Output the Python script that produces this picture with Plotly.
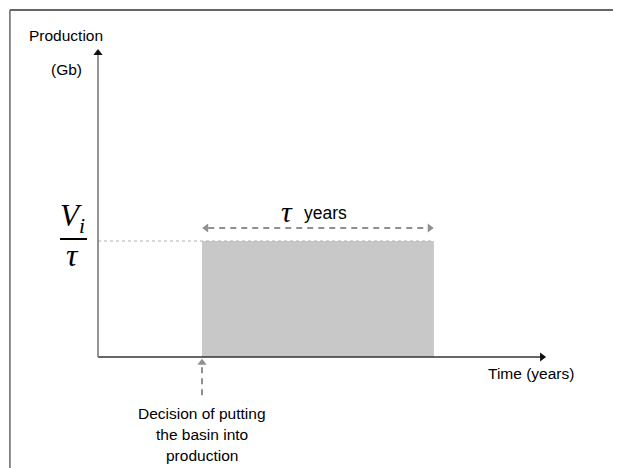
import plotly.graph_objects as go

# ---- data (conceptual units) ----
decision_time = 1.0          # time at which the basin is put into production
tau = 2.23                   # production duration (years)
production_rate = 1.0        # V_i / tau plateau
x_axis_end = 4.3             # end of the time axis (arrow tip)
y_axis_end = 2.65            # end of the production axis (arrow tip)
decision_arrow = [-0.33, -0.03]  # dashed arrow under decision point

labels_y = ["Production", "(Gb)"]
label_x = "Time (years)"
decision_lines = ["Decision of putting", "the basin into", "production"]

# ---- pixel <-> data helpers (layout only) ----
OFF = 8  # page body margin
W, H = 621 - OFF, 468 - OFF
X0, KX = 98.0, 104.0
Y0, KY = 357.0, 116.0
def dx(px): return (px - X0) / KX
def dy(py): return (Y0 - py) / KY

fig = go.Figure()
grey = "#909090"

# shaded production block
t1 = decision_time + tau
fig.add_trace(go.Scatter(
    x=[decision_time, decision_time, t1, t1, decision_time],
    y=[0, production_rate, production_rate, 0, 0],
    fill="toself", fillcolor="#c8c8c8", mode="lines",
    line=dict(width=0, color="#c8c8c8"), hoverinfo="skip", showlegend=False))

# dotted guide from y-axis to plateau
fig.add_trace(go.Scatter(
    x=[0, decision_time, t1], y=[production_rate]*3, mode="lines",
    line=dict(color="#b0b0b0", width=1.2, dash="dot"),
    hoverinfo="skip", showlegend=False))

# dashed double arrow for tau
ya = production_rate + dy(228) - dy(241)
fig.add_trace(go.Scatter(
    x=[decision_time + 0.06, t1 - 0.06], y=[ya, ya], mode="lines",
    line=dict(color=grey, width=2, dash="6px,5px"),
    hoverinfo="skip", showlegend=False))
fig.add_trace(go.Scatter(
    x=[decision_time + 0.04, t1 - 0.04], y=[ya, ya], mode="markers",
    marker=dict(symbol=["triangle-left", "triangle-right"], size=8, color=grey),
    hoverinfo="skip", showlegend=False))

# dashed decision arrow
fig.add_trace(go.Scatter(
    x=[decision_time, decision_time], y=[decision_arrow[0], decision_arrow[1] - 0.05],
    mode="lines", line=dict(color=grey, width=2, dash="6px,5px"),
    hoverinfo="skip", showlegend=False))
fig.add_trace(go.Scatter(
    x=[decision_time], y=[decision_arrow[1] - 0.02], mode="markers",
    marker=dict(symbol="triangle-up", size=8, color=grey),
    hoverinfo="skip", showlegend=False))

# axes with arrowheads
fig.add_trace(go.Scatter(x=[0, x_axis_end - 0.04], y=[0, 0], mode="lines",
                         line=dict(color="#333333", width=1.6),
                         hoverinfo="skip", showlegend=False))
fig.add_trace(go.Scatter(x=[x_axis_end - 0.03], y=[0], mode="markers",
                         marker=dict(symbol="triangle-right", size=8, color="#111111"),
                         hoverinfo="skip", showlegend=False))
fig.add_trace(go.Scatter(x=[0, 0], y=[0, y_axis_end - 0.04], mode="lines",
                         line=dict(color="#7a7a7a", width=1.6),
                         hoverinfo="skip", showlegend=False))
fig.add_trace(go.Scatter(x=[0], y=[y_axis_end - 0.03], mode="markers",
                         marker=dict(symbol="triangle-up", size=8, color="#111111"),
                         hoverinfo="skip", showlegend=False))

sans = "Liberation Sans, Arial, sans-serif"
serif = "Liberation Serif, Times New Roman, serif"

# axis labels
fig.add_annotation(x=dx(66), y=dy(35), text=labels_y[0], showarrow=False,
                   font=dict(family=sans, size=15.5, color="black"))
fig.add_annotation(x=dx(66), y=dy(69), text=labels_y[1], showarrow=False,
                   font=dict(family=sans, size=15.5, color="black"))
fig.add_annotation(x=dx(531), y=dy(373), text=label_x, showarrow=False,
                   font=dict(family=sans, size=15.5, color="black"))
for i, t in enumerate(decision_lines):
    fig.add_annotation(x=decision_time, y=dy(413 + 21 * i), text=t, showarrow=False,
                       font=dict(family=sans, size=15.5, color="black"))

# V_i / tau fraction
fig.add_annotation(x=dx(72), y=dy(218), text="<i>V<sub>i</sub></i>", showarrow=False,
                   font=dict(family=serif, size=31, color="black"))
fig.add_shape(type="line", x0=dx(60), x1=dx(87), y0=dy(239), y1=dy(239),
              line=dict(color="black", width=2))
fig.add_annotation(x=dx(72), y=dy(255), text="<i>τ</i>", showarrow=False,
                   font=dict(family=serif, size=32, color="black"))

# tau years label
fig.add_annotation(x=dx(287), y=dy(211), text="<i>τ</i>", showarrow=False,
                   font=dict(family=serif, size=30, color="black"))
fig.add_annotation(x=dx(325), y=dy(213), text="years", showarrow=False,
                   font=dict(family=sans, size=17.5, color="black"))

# outer frame (top and left edges)
fig.add_shape(type="line", xref="paper", yref="paper", x0=(9 - OFF) / W + 0.0015, x1=1,
              y0=1 - (9 - OFF) / H - 0.002, y1=1 - (9 - OFF) / H - 0.002,
              line=dict(color="#333333", width=1.5))
fig.add_shape(type="line", xref="paper", yref="paper", x0=(9 - OFF) / W + 0.0015,
              x1=(9 - OFF) / W + 0.0015, y0=0, y1=1 - (9 - OFF) / H - 0.002,
              line=dict(color="#666666", width=1.5))

fig.update_layout(
    width=W, height=H, margin=dict(l=0, r=0, t=0, b=0),
    paper_bgcolor="white", plot_bgcolor="white", showlegend=False,
    xaxis=dict(range=[dx(OFF), dx(OFF + W)], visible=False, fixedrange=True),
    yaxis=dict(range=[dy(OFF + H), dy(OFF)], visible=False, fixedrange=True),
)

fig.write_html("out.html", config={"displayModeBar": False})
